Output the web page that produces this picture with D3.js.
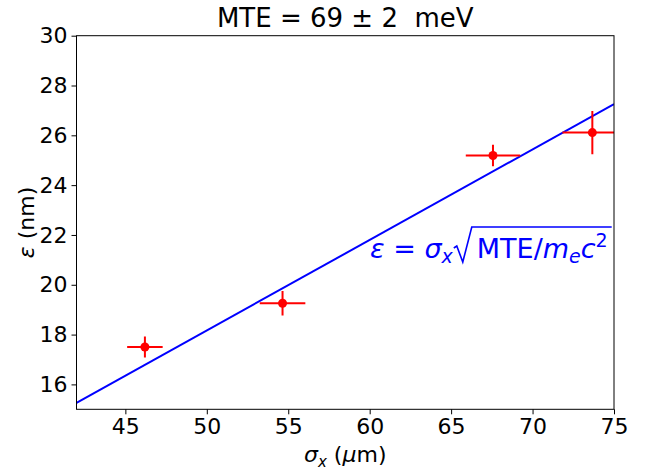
<!DOCTYPE html>
<html><head><meta charset="utf-8">
<script src="https://cdn.jsdelivr.net/npm/d3@7"></script>
<style>body{margin:0;background:#fff}svg{display:block}text{font-family:"DejaVu Sans",sans-serif}</style>
</head><body><svg id="c" width="649" height="471"></svg>
<script>
const xTicks = [45, 50, 55, 60, 65, 70, 75];
const yTicks = [16, 18, 20, 22, 24, 26, 28, 30];
const sigmaX = [46.2, 54.65, 67.57, 73.67];
const sigmaXErr = [1.09, 1.4, 1.67, 1.84];
const emittance = [17.50, 19.26, 25.19, 26.11];
const emittanceErr = [0.42, 0.49, 0.43, 0.87];
const fitX = [42, 75];
const fitY = [15.26, 27.25];

const svg = d3.select("#c");
const L = 76.5, R = 614, T = 35.7, B = 409.3;
const x = d3.scaleLinear().domain([42, 75]).range([L, R]);
const y = d3.scaleLinear().domain([15, 30]).range([B, T]);

svg.append("defs").append("clipPath").attr("id","clip")
  .append("rect").attr("x",L).attr("y",T).attr("width",R-L).attr("height",B-T);

const plot = svg.append("g").attr("clip-path","url(#clip)");
plot.append("line")
  .attr("x1", x(fitX[0])).attr("y1", y(fitY[0]))
  .attr("x2", x(fitX[1])).attr("y2", y(fitY[1]))
  .attr("stroke","#0000ff").attr("stroke-width",2);

const pts = sigmaX.map((v,i)=>({x:v, xe:sigmaXErr[i], y:emittance[i], ye:emittanceErr[i]}));
const eg = plot.selectAll("g.pt").data(pts).enter().append("g");
eg.append("line").attr("x1",d=>x(d.x-d.xe)).attr("x2",d=>x(d.x+d.xe))
  .attr("y1",d=>y(d.y)).attr("y2",d=>y(d.y)).attr("stroke","#ff0000").attr("stroke-width",2);
eg.append("line").attr("x1",d=>x(d.x)).attr("x2",d=>x(d.x))
  .attr("y1",d=>y(d.y-d.ye)).attr("y2",d=>y(d.y+d.ye)).attr("stroke","#ff0000").attr("stroke-width",2);
eg.append("circle").attr("cx",d=>x(d.x)).attr("cy",d=>y(d.y)).attr("r",4.5).attr("fill","#ff0000");

const xa = svg.append("g").attr("transform",`translate(0,${B})`)
  .call(d3.axisBottom(x).tickValues(xTicks).tickSize(5).tickPadding(4));
const ya = svg.append("g").attr("transform",`translate(${L},0)`)
  .call(d3.axisLeft(y).tickValues(yTicks).tickSize(5).tickPadding(4));
[xa,ya].forEach(a=>{
  a.select(".domain").remove();
  a.selectAll("line").attr("stroke","#000").attr("stroke-width",1);
  a.selectAll("text").attr("font-size",22).attr("fill","#000").style("font-family","DejaVu Sans");
});
svg.append("rect").attr("x",L).attr("y",T).attr("width",R-L).attr("height",B-T)
  .attr("fill","none").attr("stroke","#000").attr("stroke-width",1);

svg.append("text").attr("x",(L+R)/2).attr("y",27).attr("text-anchor","middle")
  .attr("font-size",26).text("MTE = 69 ± 2  meV").style("white-space","pre");

const xl = svg.append("text").attr("x",(L+R)/2).attr("y",462).attr("text-anchor","middle").attr("font-size",22);
xl.append("tspan").attr("font-style","italic").text("σ");
xl.append("tspan").attr("font-style","italic").attr("font-size",15).attr("dy",5).text("x");
xl.append("tspan").attr("dy",-5).text(" (");
xl.append("tspan").attr("font-style","italic").text("μ");
xl.append("tspan").text("m)");

const yl = svg.append("text").attr("transform",`translate(34,${(T+B)/2}) rotate(-90)`)
  .attr("text-anchor","middle").attr("font-size",22);
yl.append("tspan").attr("font-style","italic").text("ε");
yl.append("tspan").text(" (nm)");

const fs = 27, bx = 370, by = 258;
const f1 = svg.append("text").attr("x",bx).attr("y",by).attr("font-size",fs).attr("fill","#0000ff");
f1.append("tspan").attr("font-style","italic").text("ε");
f1.append("tspan").text(" = ");
f1.append("tspan").attr("font-style","italic").text("σ");
f1.append("tspan").attr("font-style","italic").attr("font-size",19).attr("dy",5).text("x");
const w1 = f1.node().getComputedTextLength();
const sx = bx + w1 + 1;
const f2 = svg.append("text").attr("x",sx+23).attr("y",by).attr("font-size",fs).attr("fill","#0000ff");
f2.append("tspan").text("MTE/");
f2.append("tspan").attr("font-style","italic").text("m");
f2.append("tspan").attr("font-style","italic").attr("font-size",19).attr("dy",5).text("e");
f2.append("tspan").attr("font-style","italic").attr("font-size",fs).attr("dy",-5).text("c");
f2.append("tspan").attr("font-size",19).attr("dy",-11).text("2");
const w2 = f2.node().getComputedTextLength();
const topY = by - 31;
svg.append("path").attr("d",
  `M${sx},${by-10} L${sx+3},${by-12} L${sx+9},${by+4} L${sx+18},${topY} L${sx+23+w2+4},${topY}`)
  .attr("fill","none").attr("stroke","#0000ff").attr("stroke-width",1.6);
</script></body></html>
